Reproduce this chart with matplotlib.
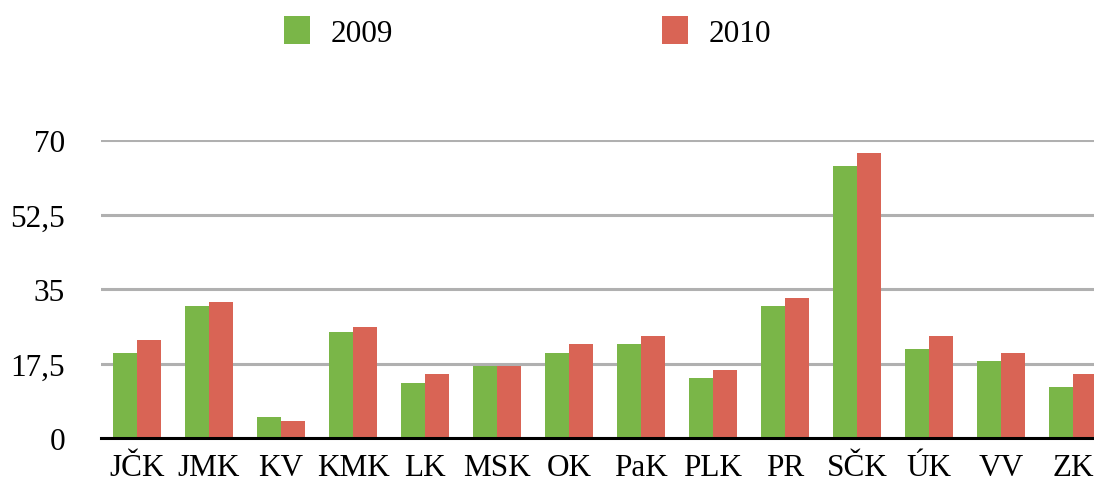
import matplotlib
matplotlib.use("Agg")
import matplotlib.pyplot as plt
import numpy as np

regions = ["JČK", "JMK", "KV", "KMK", "LK", "MSK", "OK", "PaK", "PLK", "PR", "SČK", "ÚK", "VV", "ZK"]
values_2009 = [20, 31, 5, 25, 13, 17, 20, 22, 14, 31, 64, 21, 18, 12]
values_2010 = [23, 32, 4, 26, 15, 17, 22, 24, 16, 33, 67, 24, 20, 15]
y_ticks = [0, 17.5, 35, 52.5, 70]
y_tick_labels = ["0", "17,5", "35", "52,5", "70"]

plt.rcParams['font.family'] = ['Liberation Serif', 'DejaVu Serif']

fig = plt.figure(figsize=(10.94, 4.85), dpi=100)
ax = fig.add_axes([101 / 1094, 46 / 485, 1008 / 1094, 298 / 485])

x = np.arange(len(regions))
w = 0.34
ax.bar(x - w / 2, values_2009, w, color='#7ab648', label='2009', zorder=3)
ax.bar(x + w / 2, values_2010, w, color='#d96455', label='2010', zorder=3)

ax.set_xlim(-0.5, len(regions) - 0.5)
ax.set_ylim(0, 70)
ax.set_yticks(y_ticks)
ax.set_yticklabels(y_tick_labels)
ax.set_xticks(x)
ax.set_xticklabels(regions)
ax.tick_params(axis='y', length=0, pad=26, labelsize=22.5)
ax.tick_params(axis='x', length=0, pad=11, labelsize=22.5)
ax.yaxis.grid(True, color='#b0b0b0', linewidth=2.2, zorder=0)
for side in ['top', 'right', 'left']:
    ax.spines[side].set_visible(False)
ax.spines['bottom'].set_linewidth(2.2)
ax.spines['bottom'].set_zorder(4)

fig.legend(loc='center', bbox_to_anchor=(0.482, 0.932), ncol=2, frameon=False,
           fontsize=22.5, handlelength=0.85, handleheight=1.0, handletextpad=0.65,
           columnspacing=8.6)

fig.savefig('out.png', dpi=100)
